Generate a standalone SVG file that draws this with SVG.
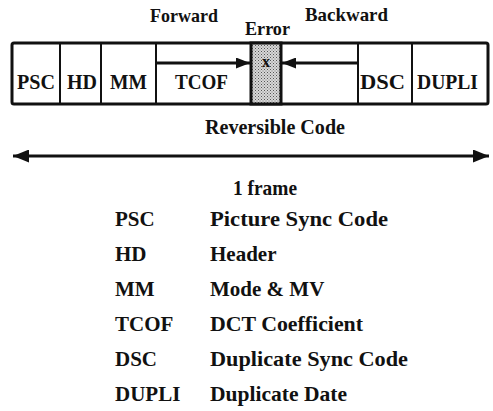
<svg xmlns="http://www.w3.org/2000/svg" width="493" height="411" viewBox="0 0 493 411">
<style>
text{font-family:"Liberation Serif","Times New Roman",serif;font-weight:bold;fill:#111;}
.lbl{font-size:21px;}
.top{font-size:19px;}
.leg{font-size:21px;}
.cell{fill:#fff;stroke:#111;stroke-width:2;}
.conn{stroke:#111;stroke-width:3;fill:none;}
</style>
<defs>
<pattern id="stip" width="3" height="3" patternUnits="userSpaceOnUse">
<rect width="3" height="3" fill="#d8d8d8"/>
<rect x="0" y="0" width="1" height="1" fill="#555"/>
<rect x="1.5" y="1.5" width="1" height="1" fill="#777"/>
</pattern>
<marker id="ah" viewBox="0 0 14 11" refX="14" refY="5.5" markerWidth="14" markerHeight="11" markerUnits="userSpaceOnUse" orient="auto-start-reverse">
<path d="M0,0 L14,5.5 L0,11 Z" fill="#111"/>
</marker>
<marker id="bh" viewBox="0 0 16 13" refX="16" refY="6.5" markerWidth="16" markerHeight="13" markerUnits="userSpaceOnUse" orient="auto-start-reverse">
<path d="M0,0 L16,6.5 L0,13 Z" fill="#111"/>
</marker>
</defs>

<g id="labels-top">
<text class="top" x="150" y="22" textLength="68" lengthAdjust="spacingAndGlyphs">Forward</text>
<text class="top" x="245" y="35" textLength="45" lengthAdjust="spacingAndGlyphs">Error</text>
<text class="top" x="305" y="21" textLength="83" lengthAdjust="spacingAndGlyphs">Backward</text>
</g>

<g id="frame">
<rect x="12" y="43" width="476" height="61" rx="2" fill="#fff" stroke="#111" stroke-width="3"/>
</g>
<g id="PSC"><line x1="60" y1="43" x2="60" y2="104" class="cell"/><text class="lbl" x="17" y="89" textLength="38" lengthAdjust="spacingAndGlyphs">PSC</text></g>
<g id="HD"><line x1="101" y1="43" x2="101" y2="104" class="cell"/><text class="lbl" x="67" y="89" textLength="30" lengthAdjust="spacingAndGlyphs">HD</text></g>
<g id="MM"><line x1="156" y1="43" x2="156" y2="104" class="cell"/><text class="lbl" x="110" y="89" textLength="37" lengthAdjust="spacingAndGlyphs">MM</text></g>
<g id="TCOF"><text class="lbl" x="175" y="89" textLength="53" lengthAdjust="spacingAndGlyphs">TCOF</text></g>
<g id="Error">
<rect x="251" y="43" width="30" height="61" fill="url(#stip)" stroke="#111" stroke-width="3"/>
<text x="266" y="67" text-anchor="middle" style="font-size:16px">x</text>
</g>
<g id="DSC"><line x1="358" y1="43" x2="358" y2="104" class="cell"/><text class="lbl" x="360" y="89" textLength="45" lengthAdjust="spacingAndGlyphs">DSC</text></g>
<g id="DUPLI"><line x1="412" y1="43" x2="412" y2="104" class="cell"/><text class="lbl" x="417" y="89" textLength="61" lengthAdjust="spacingAndGlyphs">DUPLI</text></g>

<g id="connectors">
<line class="conn" x1="156" y1="63" x2="250" y2="63" marker-end="url(#ah)"/>
<line class="conn" x1="358" y1="63" x2="282" y2="63" marker-end="url(#ah)"/>
<line x1="13" y1="156" x2="489" y2="156" stroke="#111" stroke-width="3" marker-start="url(#bh)" marker-end="url(#bh)"/>
</g>

<g id="span-labels">
<text class="lbl" x="205" y="134" textLength="140" lengthAdjust="spacingAndGlyphs">Reversible Code</text>
<text class="lbl" x="233" y="195" textLength="64" lengthAdjust="spacingAndGlyphs">1 frame</text>
</g>

<g id="legend">
<text class="leg" x="115" y="226">PSC</text>
<text class="leg" x="210" y="226" textLength="178" lengthAdjust="spacingAndGlyphs">Picture Sync Code</text>
<text class="leg" x="115" y="261">HD</text>
<text class="leg" x="210" y="261">Header</text>
<text class="leg" x="115" y="296">MM</text>
<text class="leg" x="210" y="296">Mode &amp; MV</text>
<text class="leg" x="115" y="331">TCOF</text>
<text class="leg" x="210" y="331" textLength="153" lengthAdjust="spacingAndGlyphs">DCT Coefficient</text>
<text class="leg" x="115" y="366">DSC</text>
<text class="leg" x="210" y="366" textLength="198" lengthAdjust="spacingAndGlyphs">Duplicate Sync Code</text>
<text class="leg" x="115" y="401">DUPLI</text>
<text class="leg" x="210" y="401" textLength="137" lengthAdjust="spacingAndGlyphs">Duplicate Date</text>
</g>
</svg>
